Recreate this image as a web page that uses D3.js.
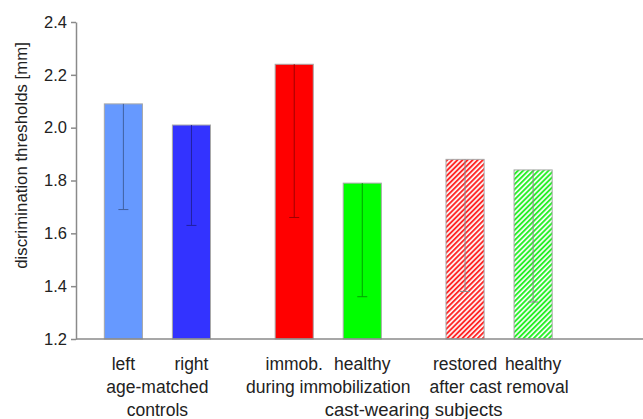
<!DOCTYPE html>
<html>
<head>
<meta charset="utf-8">
<script src="https://cdn.jsdelivr.net/npm/d3@7"></script>
<style>
  body { margin: 0; background: #fff; }
  svg { display: block; font-family: "Liberation Sans", Arial, sans-serif; }
  .axis path, .axis line { stroke: #8a8a8a; stroke-width: 1.5; }
  .axis text { fill: #222; font-size: 16.5px; }
  .bar-label, .group-label { fill: #222; font-size: 17.5px; text-anchor: middle; }
  .axis-title { fill: #222; font-size: 16.8px; text-anchor: middle; }
</style>
</head>
<body>
<svg id="chart" width="643" height="419"></svg>
<script>
// groups along the x axis
const groups = ['controls', 'immobilization', 'removal'];
const groupLines = [['age-matched', 'controls'], ['during immobilization'], ['after cast removal']];
const superGroup = 'cast-wearing subjects';

// bars
const barNames = ['left', 'right', 'immob.', 'healthy', 'restored', 'healthy'];
const barGroups = ['controls', 'controls', 'immobilization', 'immobilization', 'removal', 'removal'];
const barSlot = [0, 1, 0, 1, 0, 1];
const means = [2.09, 2.01, 2.24, 1.79, 1.88, 1.84];
const lowerErr = [1.69, 1.63, 1.66, 1.36, 1.38, 1.34];

// y ticks
const yTicks = [1.2, 1.4, 1.6, 1.8, 2.0, 2.2, 2.4];

const colors = ['#6699ff', '#3333ff', '#ff0000', '#00ff00', '#ff2222', '#22ee22'];
const hatched = [false, false, false, false, true, true];

const svg = d3.select('#chart');
const margin = { top: 22, left: 76, bottom: 80 };
const width = 643, height = 419;
const plotBottom = height - margin.bottom;

// scales
const yScale = d3.scaleLinear()
    .domain([1.2, 2.4])
    .range([plotBottom, margin.top]);

const xGroup = d3.scaleBand()
    .domain(groups)
    .range([72, 584.5]);

const xBar = d3.scaleBand()
    .domain([0, 1])
    .range([0, xGroup.bandwidth()])
    .paddingInner(0.44)
    .paddingOuter(0.475);

const barX = i => xGroup(barGroups[i]) + xBar(barSlot[i]);
const barCx = i => barX(i) + xBar.bandwidth() / 2;

// hatch patterns
const defs = svg.append('defs');
const hatchStep = 3.6;
colors.forEach((c, i) => {
    if (!hatched[i]) return;
    const p = defs.append('pattern')
        .attr('id', 'hatch' + i)
        .attr('patternUnits', 'userSpaceOnUse')
        .attr('width', hatchStep)
        .attr('height', hatchStep)
        .attr('patternTransform', 'rotate(45)');
    p.append('rect').attr('width', hatchStep).attr('height', hatchStep).attr('fill', '#fff');
    p.append('line')
        .attr('x1', 1).attr('x2', 1)
        .attr('y1', 0).attr('y2', hatchStep)
        .attr('stroke', c)
        .attr('stroke-width', 1.9);
});

// bars
const bars = svg.append('g');
bars.selectAll('rect')
    .data(means)
    .join('rect')
    .attr('x', (d, i) => barX(i))
    .attr('y', d => yScale(d))
    .attr('width', xBar.bandwidth())
    .attr('height', d => plotBottom - yScale(d))
    .attr('fill', (d, i) => hatched[i] ? `url(#hatch${i})` : colors[i])
    .attr('stroke', '#a8a8a8')
    .attr('stroke-width', 1);

// error bars (lower half only)
const err = svg.append('g');
means.forEach((m, i) => {
    const col = hatched[i] ? '#8a8a8a' : d3.color(colors[i]).darker(1.3);
    const cx = barCx(i);
    err.append('line')
        .attr('x1', cx).attr('x2', cx)
        .attr('y1', yScale(m)).attr('y2', yScale(lowerErr[i]))
        .attr('stroke', col).attr('stroke-width', 1);
    err.append('line')
        .attr('x1', cx - 5).attr('x2', cx + 5)
        .attr('y1', yScale(lowerErr[i])).attr('y2', yScale(lowerErr[i]))
        .attr('stroke', col).attr('stroke-width', 1);
});

// y axis
const yAxis = d3.axisLeft(yScale)
    .tickValues(yTicks)
    .tickFormat(d3.format('.1f'))
    .tickSize(5)
    .tickSizeOuter(0)
    .tickPadding(4);

svg.append('g')
    .attr('class', 'axis y-axis')
    .attr('transform', `translate(${margin.left},0)`)
    .call(yAxis);

// x axis line
svg.append('line')
    .attr('class', 'axis')
    .attr('x1', margin.left).attr('x2', width)
    .attr('y1', plotBottom).attr('y2', plotBottom)
    .attr('stroke', '#8a8a8a')
    .attr('stroke-width', 1.5);

// y axis title
svg.append('text')
    .attr('class', 'axis-title')
    .attr('transform', `translate(27,${(margin.top + plotBottom) / 2 - 25}) rotate(-90)`)
    .text('discrimination thresholds [mm]');

// bar labels
svg.append('g').selectAll('text')
    .data(barNames)
    .join('text')
    .attr('class', 'bar-label')
    .attr('x', (d, i) => barCx(i))
    .attr('y', 370)
    .text(d => d);

// group labels
groups.forEach((g, gi) => {
    const cx = xGroup(g) + xGroup.bandwidth() / 2;
    groupLines[gi].forEach((t, li) => {
        svg.append('text')
            .attr('class', 'group-label')
            .attr('x', cx)
            .attr('y', 393 + li * 23)
            .text(t);
    });
});

// super group label
svg.append('text')
    .attr('class', 'group-label')
    .attr('x', xGroup(groups[1]) + xGroup.bandwidth())
    .attr('y', 416)
    .style('font-size', '18.5px')
    .text(superGroup);
</script>
</body>
</html>
